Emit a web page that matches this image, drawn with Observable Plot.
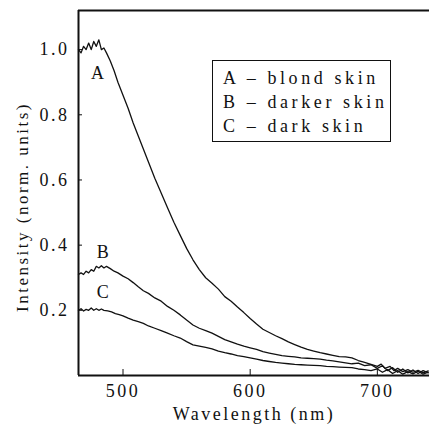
<!DOCTYPE html>
<html>
<head>
<meta charset="utf-8">
<script src="https://cdn.jsdelivr.net/npm/d3@7"></script>
<script src="https://cdn.jsdelivr.net/npm/@observablehq/plot@0.6"></script>
<style>
  html, body { margin: 0; padding: 0; background: #fff; }
  #wrap { position: relative; width: 429px; height: 425px; }
  #legend {
    position: absolute; left: 212px; top: 60px; width: 179px; height: 82px;
    border: 1.3px solid #111; box-sizing: border-box;
    font-family: "Liberation Serif", serif; font-size: 18px; letter-spacing: 3.6px;
    color: #111; padding: 5px 0 0 10px; line-height: 24px; white-space: pre;
  }
</style>
</head>
<body>
<div id="wrap"></div>
<script>
// ---- data ----
const wavelengthA = [465,467,469,471,473,475,477,479,481,483,485,487,490,493,496,500,504,508,512,516,520,525,530,535,540,545,550,555,560,565,570,575,580,585,590,595,600,605,610,615,620,625,630,635,640,645,650,655,660,665,670,675,680,685,690,695,700,703,706,710,713,716,720,724,728,732,736,740];
const intensityA  = [1.00,0.99,1.01,1.00,1.02,1.00,1.025,1.01,1.03,1.00,1.005,0.99,0.965,0.935,0.90,0.86,0.82,0.775,0.735,0.695,0.655,0.605,0.56,0.515,0.47,0.43,0.39,0.355,0.325,0.30,0.283,0.265,0.242,0.228,0.21,0.193,0.175,0.158,0.142,0.132,0.122,0.113,0.103,0.095,0.087,0.080,0.075,0.070,0.066,0.062,0.058,0.057,0.054,0.046,0.040,0.034,0.028,0.035,0.022,0.028,0.015,0.022,0.012,0.018,0.010,0.016,0.008,0.014];

const wavelengthB = [465,467,469,471,473,475,477,479,481,483,485,487,490,493,496,500,504,508,512,516,520,525,530,535,540,545,550,555,560,565,570,575,580,585,590,595,600,605,610,615,620,625,630,635,640,645,650,655,660,665,670,675,680,685,690,695,700,704,708,712,716,720,724,728,732,736,740];
const intensityB  = [0.31,0.315,0.31,0.32,0.315,0.325,0.32,0.335,0.33,0.337,0.33,0.335,0.328,0.32,0.315,0.305,0.297,0.285,0.272,0.26,0.252,0.238,0.228,0.212,0.20,0.186,0.17,0.155,0.145,0.138,0.13,0.12,0.11,0.103,0.096,0.09,0.085,0.08,0.073,0.069,0.065,0.061,0.059,0.057,0.054,0.053,0.052,0.05,0.047,0.045,0.042,0.039,0.036,0.038,0.03,0.033,0.022,0.03,0.015,0.024,0.01,0.02,0.008,0.017,0.006,0.015,0.008];

const wavelengthC = [465,467,469,471,473,475,477,479,481,483,485,488,491,494,497,500,504,508,512,516,520,525,530,535,540,545,550,555,560,565,570,575,580,585,590,595,600,605,610,615,620,625,630,635,640,645,650,655,660,665,670,675,680,685,690,695,700,704,708,712,716,720,724,728,732,736,740];
const intensityC  = [0.20,0.205,0.198,0.203,0.20,0.207,0.20,0.205,0.20,0.204,0.20,0.198,0.195,0.19,0.187,0.183,0.176,0.17,0.165,0.16,0.152,0.145,0.138,0.13,0.122,0.115,0.104,0.094,0.09,0.086,0.082,0.075,0.07,0.066,0.061,0.058,0.054,0.05,0.046,0.043,0.04,0.038,0.036,0.034,0.033,0.032,0.031,0.03,0.028,0.027,0.026,0.025,0.024,0.02,0.018,0.015,0.02,0.01,0.018,0.006,0.015,0.004,0.012,0.005,0.013,0.004,0.01];

const curveNames = ["A", "B", "C"];
const curveLabelX = [481, 485, 485];
const curveLabelY = [0.926, 0.377, 0.255];
const legendText = ["A – blond skin", "B – darker skin", "C – dark skin"];
const xTicks = [500, 600, 700];
const yTicks = [0.2, 0.4, 0.6, 0.8, 1.0];
const xDomain = [465, 741];
const yDomain = [0, 1.12];
const xLabel = "Wavelength (nm)";
const yLabel = "Intensity (norm. units)";

// ---- build table ----
const series = [[wavelengthA, intensityA], [wavelengthB, intensityB], [wavelengthC, intensityC]];
const rows = series.flatMap(([xs, ys], i) => xs.map((x, j) => ({curve: curveNames[i], x, y: ys[j]})));
const labels = curveNames.map((n, i) => ({n, x: curveLabelX[i], y: curveLabelY[i]}));

const chart = Plot.plot({
  width: 429,
  height: 425,
  marginLeft: 78,
  marginRight: 0,
  marginTop: 10,
  marginBottom: 50,
  style: {fontFamily: "Liberation Serif, serif", fontSize: "18px", letterSpacing: "2.5px", color: "#111", background: "#fff"},
  x: {domain: xDomain},
  y: {domain: yDomain},
  marks: [
    Plot.line(rows, {x: "x", y: "y", z: "curve", stroke: "#111", strokeWidth: 1.3}),
    Plot.text(labels, {x: "x", y: "y", text: "n", fill: "#111", fontSize: 18}),
    Plot.ruleY([yDomain[0]], {stroke: "#111", strokeWidth: 2}),
    Plot.ruleY([yDomain[1]], {stroke: "#111", strokeWidth: 2}),
    Plot.ruleX([xDomain[0]], {stroke: "#111", strokeWidth: 2}),
    Plot.axisX({ticks: xTicks, tickSize: -6, tickPadding: 15, label: null, fontSize: 18, tickFormat: d => String(d)}),
    Plot.axisY({ticks: yTicks, tickSize: -4, tickPadding: 13, label: null, fontSize: 18, tickFormat: d3.format(".1f")}),
    Plot.text([xLabel], {frameAnchor: "bottom", lineAnchor: "middle", dy: 39, fill: "#111", fontSize: 18}),
    Plot.text([yLabel], {frameAnchor: "left", textAnchor: "middle", lineAnchor: "middle", dx: -56, dy: 14, rotate: -90, fill: "#111", fontSize: 17})
  ]
});

const wrap = document.getElementById("wrap");
wrap.appendChild(chart);
const legend = document.createElement("div");
legend.id = "legend";
legend.textContent = legendText.join("\n");
wrap.appendChild(legend);
</script>
</body>
</html>
